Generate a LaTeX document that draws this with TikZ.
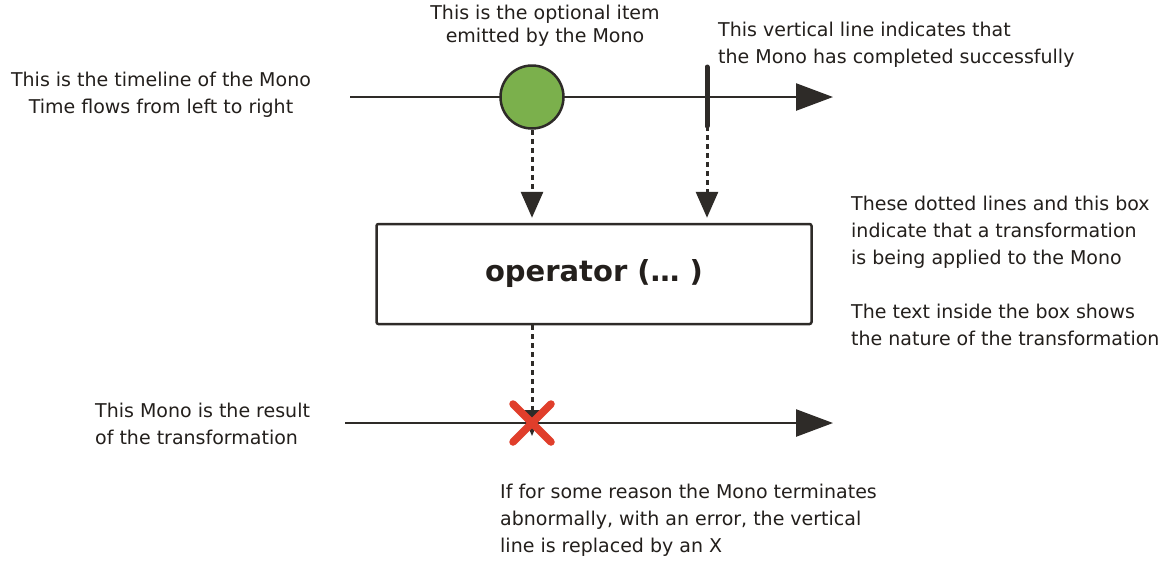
\documentclass[tikz,border=0pt]{standalone}
\usepackage{fontspec}
\setmainfont{DejaVu Sans}
\usetikzlibrary{arrows.meta}
\definecolor{ink}{HTML}{2E2B28}
\definecolor{txt}{HTML}{231F1C}
\definecolor{itemgreen}{HTML}{7BB04C}
\definecolor{errred}{HTML}{E03E2B}
\begin{document}
\begin{tikzpicture}[x=1pt,y=-1pt,
  lbl/.style={font=\fontsize{19}{27}\selectfont, text=txt, inner sep=0pt},
  timeline/.style={draw=ink, line width=2.5pt, -{Triangle[length=37pt,width=27pt]}},
  dotarrow/.style={draw=ink, line width=3pt, dash pattern=on 5pt off 4pt,
    -{Triangle[length=26pt,width=22pt]}},
  opbox/.style={draw=ink, line width=2.5pt, rounded corners=2pt, minimum width=435pt,
    minimum height=100pt, fill=white, font=\fontsize{29}{32}\bfseries\selectfont, text=txt},
  item/.style={circle, draw=ink, line width=2.5pt, fill=itemgreen, minimum size=63pt, inner sep=0pt},
  done/.style={draw=ink, line width=5pt, line cap=round},
  cross/.style={draw=errred, line width=7.5pt, line cap=round}]
\useasboundingbox (0,0) rectangle (1170,566);
\fill[white] (0,0) rectangle (1170,566);

% top timeline
\coordinate (t1s) at (350,97);
\coordinate (t1e) at (833,97);
\draw[timeline] (t1s) -- (t1e);
\node[item] (item) at (532,97) {};
\coordinate (doneTop) at (707,67);
\coordinate (doneBot) at (707,126);
\draw[done] (doneTop) -- (doneBot);

% operator box
\node[opbox] (op) at (594,274) {operator (… )};

% dotted arrows
\draw[dotarrow, shorten >=5pt] (item.south) -- (item.south |- op.north);
\draw[dotarrow, shorten >=5pt] (doneBot) -- (doneBot |- op.north);

% bottom timeline
\coordinate (t2s) at (345,423);
\coordinate (t2e) at (833,423);
\draw[timeline] (t2s) -- (t2e);
\coordinate (err) at (532,423);
\draw[dotarrow] (op.south -| err) -- ([yshift=-13pt]err);
\draw[cross] ([shift={(-19,-19)}]err) -- ([shift={(19,19)}]err);
\draw[cross] ([shift={(-19,19)}]err) -- ([shift={(19,-19)}]err);

% labels
\node[lbl, align=center, font=\fontsize{19}{23}\selectfont] (Litem) at (545,26) {This is the optional item\\emitted by the Mono};
\node[lbl, align=left, anchor=west] (Ldone) at (718,45) {This vertical line indicates that\\the Mono has completed successfully};
\node[lbl, align=center] (Ltime) at (161,95) {This is the timeline of the Mono\\Time flows from left to right};
\node[lbl, align=left, anchor=west] (Lop) at (851,271) {These dotted lines and this box\\indicate that a transformation\\is being applied to the Mono\\[27pt]The text inside the box shows\\the nature of the transformation};
\node[lbl, align=left, anchor=west] (Lres) at (95,424) {This Mono is the result\\of the transformation};
\node[lbl, align=left, anchor=west] (Lerr) at (500,520) {If for some reason the Mono terminates\\abnormally, with an error, the vertical\\line is replaced by an X};
\end{tikzpicture}
\end{document}
